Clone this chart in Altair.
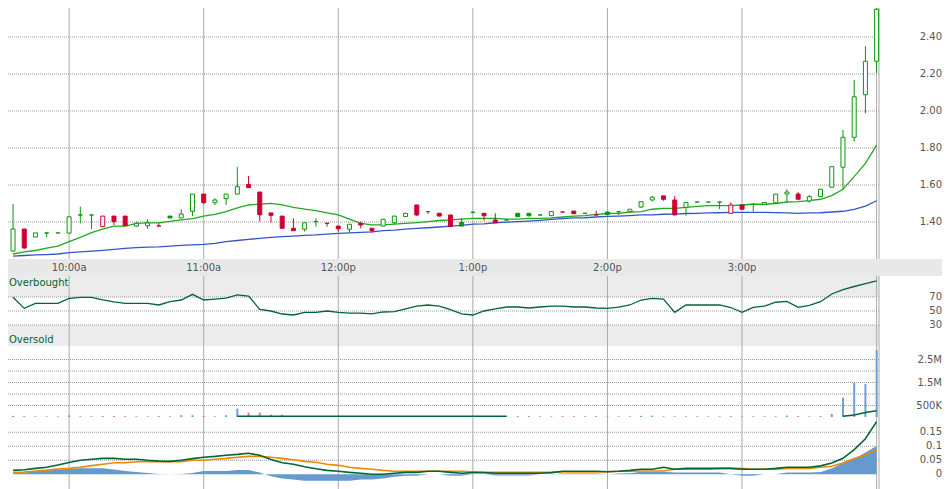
import altair as alt
import pandas as pd
import numpy as np

# 5-minute bars, minutes after 9:30 (9:35 ... 16:00)
minutes = [5 * (i + 1) for i in range(78)]

open_ = [1.243, 1.362, 1.319, 1.341, 1.341, 1.340, 1.438, 1.438, 1.375, 1.432,
         1.432, 1.378, 1.380, 1.378, 1.432, 1.422, 1.458, 1.551, 1.504, 1.526,
         1.551, 1.602, 1.562, 1.449, 1.432, 1.366, 1.361, 1.402, 1.393, 1.378,
         1.361, 1.393, 1.366, 1.378, 1.396, 1.429, 1.492, 1.456, 1.447, 1.438,
         1.397, 1.452, 1.447, 1.411, 1.411, 1.447, 1.447, 1.438, 1.434, 1.454,
         1.459, 1.447, 1.438, 1.454, 1.456, 1.456, 1.481, 1.519, 1.541, 1.519,
         1.479, 1.508, 1.508, 1.508, 1.447, 1.492, 1.496, 1.496, 1.504, 1.551,
         1.551, 1.514, 1.537, 1.588, 1.696, 1.858, 2.088, 2.269]
high = [1.497, 1.362, 1.341, 1.341, 1.341, 1.428, 1.483, 1.438, 1.432, 1.432,
        1.432, 1.402, 1.415, 1.393, 1.432, 1.469, 1.551, 1.551, 1.528, 1.551,
        1.697, 1.649, 1.562, 1.449, 1.432, 1.420, 1.396, 1.420, 1.393, 1.378,
        1.388, 1.402, 1.366, 1.415, 1.432, 1.447, 1.492, 1.456, 1.447, 1.438,
        1.422, 1.459, 1.447, 1.447, 1.411, 1.447, 1.447, 1.438, 1.457, 1.454,
        1.459, 1.447, 1.461, 1.454, 1.456, 1.469, 1.510, 1.541, 1.541, 1.541,
        1.506, 1.508, 1.508, 1.508, 1.506, 1.492, 1.496, 1.506, 1.551, 1.577,
        1.562, 1.546, 1.577, 1.699, 1.897, 2.168, 2.351, 2.591]
low = [1.240, 1.254, 1.319, 1.319, 1.341, 1.340, 1.393, 1.362, 1.375, 1.384,
       1.380, 1.375, 1.364, 1.378, 1.422, 1.422, 1.432, 1.497, 1.492, 1.492,
       1.551, 1.584, 1.402, 1.396, 1.366, 1.353, 1.348, 1.375, 1.375, 1.348,
       1.342, 1.366, 1.342, 1.378, 1.389, 1.429, 1.432, 1.443, 1.432, 1.376,
       1.378, 1.447, 1.407, 1.396, 1.411, 1.429, 1.429, 1.432, 1.434, 1.454,
       1.443, 1.447, 1.438, 1.441, 1.438, 1.454, 1.476, 1.512, 1.515, 1.438,
       1.434, 1.508, 1.508, 1.470, 1.447, 1.469, 1.456, 1.496, 1.501, 1.504,
       1.523, 1.504, 1.537, 1.588, 1.582, 1.834, 1.988, 2.207]
close = [1.362, 1.260, 1.341, 1.341, 1.341, 1.428, 1.438, 1.438, 1.432, 1.402,
         1.380, 1.393, 1.395, 1.378, 1.422, 1.443, 1.551, 1.504, 1.519, 1.551,
         1.591, 1.586, 1.439, 1.436, 1.366, 1.353, 1.396, 1.402, 1.393, 1.364,
         1.388, 1.384, 1.353, 1.415, 1.432, 1.447, 1.438, 1.456, 1.432, 1.376,
         1.378, 1.452, 1.434, 1.396, 1.411, 1.429, 1.434, 1.438, 1.457, 1.454,
         1.445, 1.447, 1.438, 1.441, 1.456, 1.469, 1.510, 1.534, 1.523, 1.438,
         1.506, 1.508, 1.508, 1.508, 1.492, 1.469, 1.496, 1.506, 1.551, 1.562,
         1.523, 1.537, 1.577, 1.699, 1.858, 2.077, 2.269, 2.550]
ma_fast = [1.227, 1.238, 1.246, 1.259, 1.270, 1.294, 1.317, 1.342, 1.361, 1.378,
           1.378, 1.393, 1.395, 1.395, 1.403, 1.411, 1.418, 1.432, 1.441, 1.456,
           1.476, 1.492, 1.497, 1.501, 1.492, 1.479, 1.470, 1.461, 1.449, 1.438,
           1.416, 1.393, 1.384, 1.384, 1.389, 1.393, 1.397, 1.402, 1.408, 1.411,
           1.416, 1.420, 1.420, 1.420, 1.416, 1.416, 1.420, 1.420, 1.422, 1.427,
           1.432, 1.435, 1.441, 1.446, 1.447, 1.454, 1.456, 1.469, 1.474, 1.474,
           1.479, 1.484, 1.488, 1.488, 1.488, 1.492, 1.496, 1.496, 1.500, 1.508,
           1.510, 1.516, 1.523, 1.543, 1.577, 1.645, 1.717, 1.816]
ma_slow = [1.216, 1.219, 1.222, 1.224, 1.227, 1.234, 1.238, 1.243, 1.247, 1.252,
           1.257, 1.261, 1.264, 1.266, 1.270, 1.274, 1.276, 1.279, 1.285, 1.294,
           1.300, 1.306, 1.311, 1.317, 1.321, 1.324, 1.328, 1.330, 1.334, 1.338,
           1.341, 1.344, 1.347, 1.353, 1.356, 1.361, 1.365, 1.369, 1.373, 1.378,
           1.382, 1.388, 1.390, 1.396, 1.399, 1.402, 1.405, 1.409, 1.414, 1.418,
           1.422, 1.423, 1.427, 1.430, 1.432, 1.435, 1.438, 1.439, 1.442, 1.443,
           1.446, 1.447, 1.449, 1.450, 1.452, 1.452, 1.452, 1.452, 1.451, 1.449,
           1.447, 1.449, 1.450, 1.454, 1.458, 1.468, 1.486, 1.515]
rsi = [69.6, 53.8, 61, 61, 61, 68, 69.6, 69.6, 66, 63,
       61, 61, 61, 58.6, 63.3, 65.7, 73.8, 65.7, 67, 68.5,
       72.9, 71.4, 52.4, 50, 45.7, 44.3, 48.1, 48.1, 50, 48,
       47, 47.1, 46, 48.6, 49, 52.9, 57, 58.6, 57.1, 52,
       46, 44.3, 50, 53, 55.7, 55.7, 54.3, 55.7, 57.1, 57.1,
       55.7, 55.7, 54.3, 53.8, 55.5, 58.6, 65.7, 68.1, 67.1, 48.1,
       58.6, 58.6, 58.6, 58.6, 55, 48.1, 55.2, 57.1, 62.5, 63.8,
       55.2, 58, 63.3, 74.3, 80.5, 85, 89, 92.9]
volume = [50000, 40000, 30000, 30000, 30000, 70000, 30000, 30000, 40000, 40000,
          40000, 30000, 30000, 40000, 30000, 75000, 75000, 50000, 30000, 75000,
          360000, 190000, 190000, 100000, 100000, 40000, 40000, 40000, 40000, 40000,
          30000, 40000, 40000, 30000, 30000, 40000, 40000, 30000, 40000, 40000,
          30000, 30000, 40000, 40000, 30000, 40000, 40000, 30000, 30000, 40000,
          40000, 30000, 40000, 30000, 30000, 30000, 50000, 60000, 30000, 30000,
          30000, 30000, 30000, 30000, 40000, 30000, 30000, 30000, 30000, 60000,
          40000, 30000, 40000, 130000, 840000, 1490000, 1430000, 2910000]
vol_ma = ([None] * 20 + [30000] * 25 + [None] * 29 + [30000, 87000, 200000, 270000])
macd = [0.014, 0.016, 0.021, 0.025, 0.033, 0.042, 0.050, 0.054, 0.057, 0.057,
        0.054, 0.054, 0.050, 0.047, 0.046, 0.050, 0.056, 0.061, 0.064, 0.068,
        0.071, 0.075, 0.068, 0.053, 0.041, 0.036, 0.027, 0.020, 0.014, 0.011,
        0.007, 0.004, 0.000, 0.000, 0.004, 0.007, 0.007, 0.011, 0.011, 0.007,
        0.004, 0.006, 0.006, 0.004, 0.004, 0.004, 0.004, 0.004, 0.006, 0.011,
        0.011, 0.011, 0.011, 0.009, 0.011, 0.014, 0.018, 0.018, 0.025, 0.018,
        0.021, 0.021, 0.021, 0.021, 0.021, 0.018, 0.018, 0.018, 0.021, 0.025,
        0.025, 0.025, 0.030, 0.040, 0.057, 0.088, 0.127, 0.188]
signal = [0.006, 0.008, 0.012, 0.015, 0.019, 0.021, 0.025, 0.031, 0.036, 0.041,
          0.041, 0.045, 0.045, 0.045, 0.045, 0.045, 0.050, 0.050, 0.054, 0.057,
          0.061, 0.064, 0.064, 0.061, 0.057, 0.052, 0.046, 0.043, 0.036, 0.032,
          0.025, 0.021, 0.018, 0.014, 0.011, 0.011, 0.011, 0.011, 0.011, 0.011,
          0.011, 0.009, 0.007, 0.007, 0.007, 0.007, 0.007, 0.007, 0.007, 0.008,
          0.008, 0.008, 0.008, 0.009, 0.011, 0.011, 0.012, 0.012, 0.012, 0.018,
          0.018, 0.018, 0.018, 0.021, 0.021, 0.021, 0.018, 0.018, 0.018, 0.021,
          0.021, 0.021, 0.025, 0.029, 0.040, 0.056, 0.070, 0.087]
hist = [0.004, 0.006, 0.011, 0.013, 0.017, 0.019, 0.022, 0.022, 0.022, 0.017,
        0.012, 0.008, 0.005, 0.001, 0.000, 0.001, 0.005, 0.012, 0.012, 0.012,
        0.015, 0.015, 0.006, -0.007, -0.015, -0.019, -0.023, -0.023, -0.023, -0.023,
        -0.023, -0.019, -0.019, -0.015, -0.009, -0.005, -0.005, 0.000, 0.000, -0.005,
        -0.005, 0.000, 0.000, -0.004, -0.004, -0.004, -0.004, 0.000, 0.000, 0.003,
        0.003, 0.003, 0.003, 0.000, 0.003, 0.004, 0.009, 0.009, 0.009, 0.006,
        0.006, 0.006, 0.006, 0.006, 0.000, -0.005, -0.005, 0.000, 0.000, 0.006,
        0.006, 0.006, 0.008, 0.021, 0.040, 0.055, 0.078, 0.101]

hour_minutes = [30, 90, 150, 210, 270, 330]
hour_labels = ["10:00a", "11:00a", "12:00p", "1:00p", "2:00p", "3:00p"]
price_ticks = [1.4, 1.6, 1.8, 2.0, 2.2, 2.4]
price_labels = ["1.40", "1.60", "1.80", "2.00", "2.20", "2.40"]
rsi_ticks = [30, 50, 70]
rsi_labels = ["30", "50", "70"]
vol_grid = [500000, 1000000, 1500000, 2000000, 2500000]
vol_ticks = [500000, 1500000, 2500000]
vol_labels = ["500K", "1.5M", "2.5M"]
macd_grid = [0.05, 0.1, 0.15]
macd_ticks = [0, 0.05, 0.1, 0.15]
macd_labels = ["0", "0.05", "0.1", "0.15"]

GREEN = "#0b960b"
RED = "#cc0033"
FONT = "DejaVu Sans"

df = pd.DataFrame(dict(m=minutes, o=open_, h=high, l=low, c=close,
                       maf=ma_fast, mas=ma_slow, rsi=rsi, vol=volume,
                       macd=macd, sig=signal, hist=hist))
prev = df["c"].shift(1).fillna(df["o"])
df["col"] = np.where(df["c"] >= prev - 1e-9, "up", "down")
df["fillk"] = np.where(df["c"] > df["o"] + 1e-9, "hollow", df["col"])

vm_rows = []
seg = 0
last = None
for m, v in zip(minutes, vol_ma):
    if v is None:
        last = None
        continue
    if last is None:
        seg += 1
    vm_rows.append({"m": m, "v": v, "seg": seg})
    last = v
vm_df = pd.DataFrame(vm_rows)

# ---- layout (pixels inside the single view) ----
W = 871            # plot-area width (9:30 .. 16:00 + border)
TW = 934           # whole chart width
H = 481
P_TOP, P_BOT = 0, 251
B_TOP, B_BOT = 251, 268
R_TOP, R_BOT = 268, 338
V_TOP, V_BOT = 338, 409
M_TOP, M_BOT = 409, 481
X_LEFT, X_EDGE = 2.76, 391.06
PPM = W / (X_EDGE - X_LEFT)
XDOM = [X_LEFT, X_LEFT + TW / PPM]


def X(field="m:Q"):
    return alt.X(field, scale=alt.Scale(domain=XDOM, nice=False, zero=False, padding=0),
                 axis=None)


def Y(field, sc):
    return alt.Y(field, scale=sc, axis=None)


pscale = alt.Scale(domain=[1.2, 2.5568], range=[P_BOT, P_TOP], nice=False, zero=False,
                   clamp=True, padding=0)
rscale = alt.Scale(domain=[0, 100], range=[R_BOT, R_TOP], nice=False, zero=False, padding=0)
vscale = alt.Scale(domain=[0, 71 / 11.5 * 500000], range=[V_BOT, V_TOP], nice=False,
                   zero=False, padding=0)
mscale = alt.Scale(domain=[-0.0525, 0.2046], range=[M_BOT, M_TOP], nice=False, zero=False,
                   padding=0)

one = pd.DataFrame({"k": [0]})
base = alt.Chart(df)

# backgrounds
band_bg = alt.Chart(one).mark_rect(color="#e8e8e8").encode(
    x=alt.value(0), x2=alt.value(TW), y=alt.value(B_TOP), y2=alt.value(B_BOT))
zones = pd.DataFrame({"lo": [70, 0], "hi": [100, 30]})
rsi_bg = alt.Chart(zones).mark_rect(color="#ececec").encode(
    x=alt.value(0), x2=alt.value(W), y=Y("lo:Q", rscale), y2="hi:Q")


def hgrid(vals, sc):
    return alt.Chart(pd.DataFrame({"v": vals})).mark_rule(
        color="#999999", strokeDash=[1, 1], strokeWidth=1).encode(
        x=alt.value(0), x2=alt.value(W), y=Y("v:Q", sc))


vg = pd.DataFrame({"m": hour_minutes + [390, X_EDGE]})
vgrid_top = alt.Chart(vg).mark_rule(color="#aaaaaa", strokeWidth=1).encode(
    x=X(), y=alt.value(P_TOP), y2=alt.value(P_BOT))
vgrid_low = alt.Chart(vg).mark_rule(color="#aaaaaa", strokeWidth=1).encode(
    x=X(), y=alt.value(R_TOP), y2=alt.value(H))


def labels(vals, texts, sc):
    return alt.Chart(pd.DataFrame({"v": vals, "t": texts})).mark_text(
        align="right", baseline="middle", font=FONT, fontSize=10, color="#555555").encode(
        x=alt.value(TW), y=Y("v:Q", sc), text="t:N")


# price
cscale = alt.Scale(domain=["up", "down"], range=[GREEN, RED])
maf_line = base.mark_line(color="#1faa1f", strokeWidth=1.3).encode(x=X(), y=Y("maf:Q", pscale))
mas_line = base.mark_line(color="#3355cc", strokeWidth=1.3).encode(x=X(), y=Y("mas:Q", pscale))
wick = base.mark_rule(strokeWidth=1).encode(
    x=X(), y=Y("l:Q", pscale), y2="h:Q",
    color=alt.Color("col:N", scale=cscale, legend=None))
body = base.mark_bar(size=4, strokeWidth=1).encode(
    x=X(), y=Y("o:Q", pscale), y2="c:Q",
    fill=alt.Fill("fillk:N", scale=alt.Scale(domain=["hollow", "up", "down"],
                                             range=["white", GREEN, RED]), legend=None),
    stroke=alt.Stroke("col:N", scale=cscale, legend=None))

# time labels
tlabels = alt.Chart(pd.DataFrame({"m": hour_minutes, "t": hour_labels})).mark_text(
    font=FONT, fontSize=10, color="#555555", baseline="middle", align="center").encode(
    x=X(), y=alt.value(260), text="t:N")

# RSI
rsi_line = base.mark_line(color="#006633", strokeWidth=1.3).encode(x=X(), y=Y("rsi:Q", rscale))
zone_txt = alt.Chart(pd.DataFrame({"t": ["Overbought", "Oversold"], "v": [90, 9]})).mark_text(
    align="left", baseline="middle", color="#006633", font=FONT, fontSize=10).encode(
    x=alt.value(1), y=Y("v:Q", rscale), text="t:N")

# volume
vbars = base.mark_bar(size=2).encode(
    x=X(), y=Y("vol:Q", vscale),
    color=alt.Color("col:N", scale=alt.Scale(domain=["up", "down"], range=["#6f9fd2", "#dd7799"]),
                    legend=None))
vma = alt.Chart(vm_df).mark_line(color="#006633", strokeWidth=1.5).encode(
    x=X(), y=Y("v:Q", vscale), detail="seg:N")

# MACD
harea = base.mark_area(color="#6699cc").encode(x=X(), y=Y("hist:Q", mscale), y2=alt.datum(0))
sig_line = base.mark_line(color="#ee8800", strokeWidth=1.6).encode(x=X(), y=Y("sig:Q", mscale))
macd_line = base.mark_line(color="#006633", strokeWidth=1.6).encode(x=X(), y=Y("macd:Q", mscale))

chart = alt.layer(
    band_bg, rsi_bg,
    hgrid(price_ticks, pscale), hgrid(rsi_ticks, rscale), hgrid(vol_grid, vscale),
    hgrid(macd_grid, mscale),
    vgrid_top, vgrid_low,
    maf_line, mas_line, wick, body,
    tlabels,
    rsi_line, zone_txt,
    vbars, vma,
    harea, sig_line, macd_line,
    labels(price_ticks, price_labels, pscale),
    labels(rsi_ticks, rsi_labels, rscale),
    labels(vol_ticks, vol_labels, vscale),
    labels(macd_ticks, macd_labels, mscale),
).resolve_scale(
    y="independent", color="independent", fill="independent", stroke="independent"
).properties(
    width=TW, height=H, padding=0, background="white",
    autosize=alt.AutoSizeParams(type="none")
).configure_view(stroke="transparent")

chart.save("out.html", embed_options={"renderer": "svg", "actions": False})
